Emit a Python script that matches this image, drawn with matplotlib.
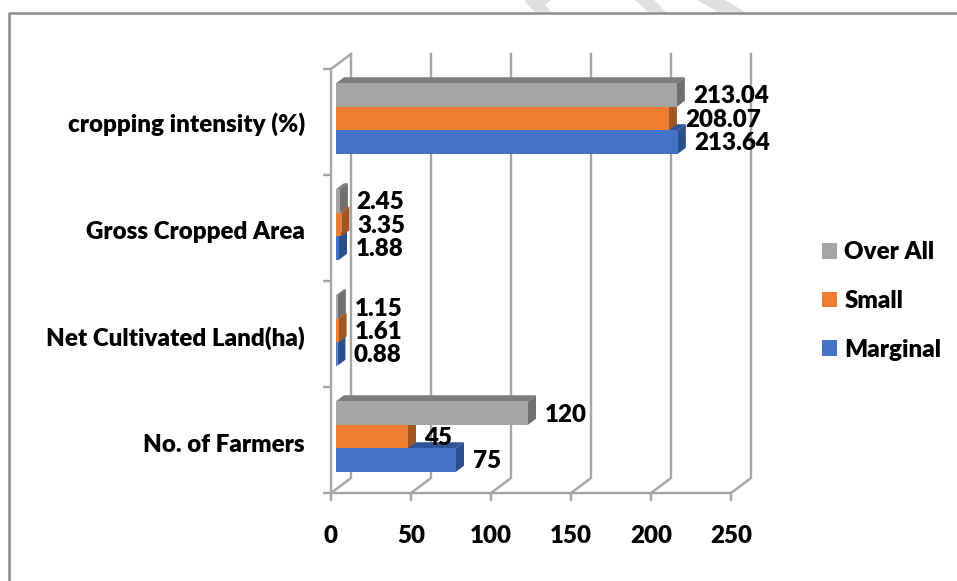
import matplotlib
matplotlib.use("Agg")
import matplotlib.pyplot as plt
from matplotlib.lines import Line2D
from matplotlib.patches import Polygon

plt.rcParams["font.family"] = ["Lato", "DejaVu Sans"]
plt.rcParams["font.weight"] = "heavy"

categories = ["No. of Farmers", "Net Cultivated Land(ha)", "Gross Cropped Area", "cropping intensity (%)"]
series_names = ["Marginal", "Small", "Over All"]
marginal = [75, 0.88, 1.88, 213.64]
small = [45, 1.61, 3.35, 208.07]
over_all = [120, 1.15, 2.45, 213.04]
label_marginal = ["75", "0.88", "1.88", "213.64"]
label_small = ["45", "1.61", "3.35", "208.07"]
label_over_all = ["120", "1.15", "2.45", "213.04"]
x_ticks = [0, 50, 100, 150, 200, 250]

W, H = 957, 581
GRID = "#A6A6A6"
FRONT = ["#4472C4", "#ED7D31", "#A5A5A5"]
TOP = ["#2F5597", "#A85A24", "#7C7C7C"]
SIDE = ["#2B4E8C", "#A05522", "#707070"]
FS = 17.4

fig = plt.figure(figsize=(W / 100, H / 100), dpi=100)
ax = fig.add_axes([331 / W, (H - 493) / H, 400 / W, 424 / H])
ax.set_xlim(0, 250)
ax.set_ylim(0, 4)

# px to data units
ux = 250 / 400
uy = 4 / 424
back_x, back_y = 20 * ux, 15 * uy
off_x, off_y = 5 * ux, 3.5 * uy
depth_x, depth_y = 8 * ux, 6 * uy
bar_h = 23.5 * uy

# back wall and floor
for t in x_ticks:
    ax.plot([t, t + back_x, t + back_x], [0, back_y, 4 + back_y], color=GRID, lw=1.7, clip_on=False, zorder=1)
ax.plot([0, back_x], [4, 4 + back_y], color=GRID, lw=1.7, clip_on=False, zorder=1)

all_series = [marginal, small, over_all]
all_labels = [label_marginal, label_small, label_over_all]
handles = []
for i, vals in enumerate(all_series):
    ypos = [c + 0.5 + off_y + (i - 1) * bar_h for c in range(len(categories))]
    z = 3 + i
    bars = ax.barh(ypos, vals, height=bar_h, left=off_x, color=FRONT[i], zorder=z + 0.2, clip_on=False, label=series_names[i])
    handles.append(bars)
    for y, v, txt in zip(ypos, vals, all_labels[i]):
        x1 = off_x + v
        y0, y1 = y - bar_h / 2, y + bar_h / 2
        ax.fill([off_x, x1, x1 + depth_x, off_x + depth_x], [y1, y1, y1 + depth_y, y1 + depth_y],
                color=TOP[i], lw=0, zorder=z, clip_on=False)
        ax.fill([x1, x1 + depth_x, x1 + depth_x, x1], [y0, y0 + depth_y, y1 + depth_y, y1],
                color=SIDE[i], lw=0, zorder=z + 0.1, clip_on=False)
        ax.annotate(txt, (x1, y), xytext=(16.5 * 0.72, -1.5 * 0.72), textcoords="offset points",
                    ha="left", va="center", fontsize=FS, fontweight="heavy", color="black", zorder=10)

for s in ["top", "right"]:
    ax.spines[s].set_visible(False)
for s in ["left", "bottom"]:
    ax.spines[s].set_color(GRID)
    ax.spines[s].set_linewidth(1.7)

ax.set_xticks(x_ticks)
ax.set_yticks(range(5))
ax.set_yticklabels([])
# labels sit a touch below the middle of each band in the lower rows
ax.set_yticks([0.47, 1.48, 2.48, 3.5], minor=True)
ax.set_yticklabels(categories, minor=True, fontsize=FS, fontweight="heavy")
ax.tick_params(axis="x", length=6, width=1.7, color=GRID, pad=16.7, labelsize=FS)
ax.tick_params(axis="y", which="major", length=6, width=1.7, color=GRID)
ax.tick_params(axis="y", which="minor", length=0, pad=18.7)

fig.legend(handles[::-1], series_names[::-1], loc="center left", bbox_to_anchor=(822 / W, (H - 301) / H),
           frameon=False, fontsize=FS, handlelength=0.62, handleheight=0.62, handletextpad=0.3,
           labelspacing=1.1, borderpad=0, borderaxespad=0)

# frame of the page, cut off at right and bottom
fig.add_artist(Line2D([9 / W, 9 / W, 1], [0, (H - 13) / H, (H - 13) / H], color="#8C8C8C", lw=1.8))

# bits of the watermark above the frame
wm = [
    [(525, 2), (535, 12), (552, 12), (545, 5), (551, 0), (525, 0)],
    [(635, 0), (648, 12), (666, 12), (654, 0)],
    [(697, 0), (718, 12), (745, 12), (725, 0)],
]
for pts in wm:
    fig.add_artist(Polygon([(x / W, (H - y) / H) for x, y in pts], closed=True, color="#E0E0E0", lw=0))

fig.savefig("out.png", dpi=100)
